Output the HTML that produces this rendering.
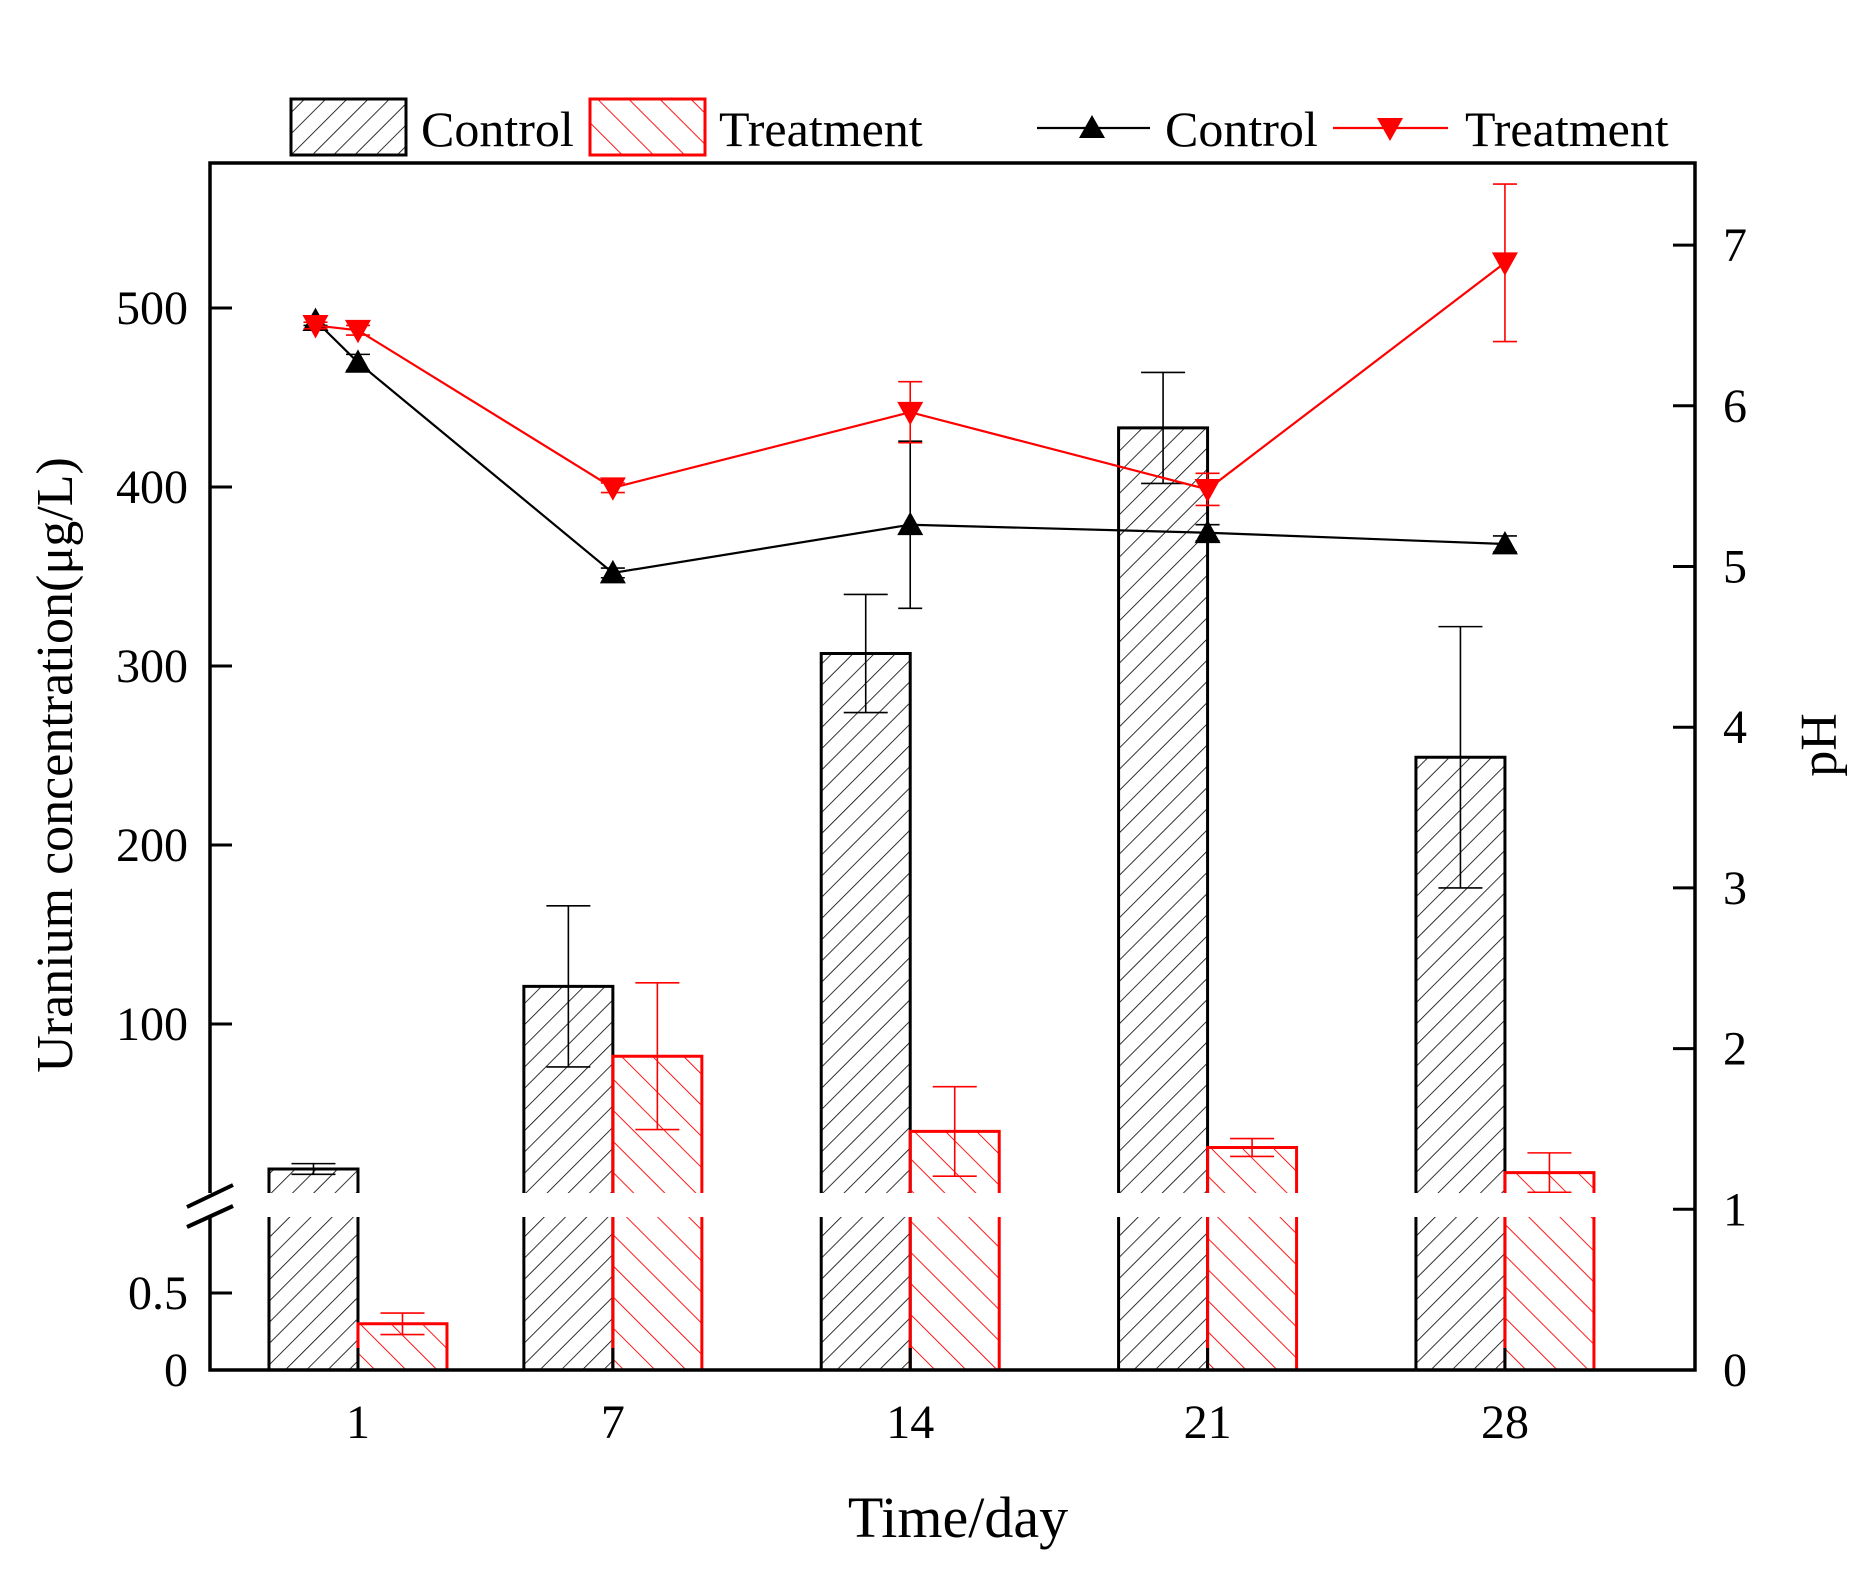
<!DOCTYPE html>
<html><head><meta charset="utf-8">
<style>
html,body{margin:0;padding:0;background:#fff;}
svg{display:block;font-family:"Liberation Serif",serif;}
</style></head>
<body>
<svg id="chart" width="1863" height="1569" viewBox="0 0 1863 1569" xmlns="http://www.w3.org/2000/svg">
<defs>
<pattern id="hatchC" patternUnits="userSpaceOnUse" width="15" height="15" patternTransform="rotate(45)">
<line x1="0" y1="0" x2="0" y2="15" stroke="#000" stroke-width="1.6"/>
</pattern>
<pattern id="hatchT" patternUnits="userSpaceOnUse" width="22" height="22" patternTransform="rotate(-45)">
<line x1="0" y1="0" x2="0" y2="22" stroke="#f00" stroke-width="1.8"/>
</pattern>
</defs>
<g id="g"></g>
</svg>
<script>
const days = [1, 7, 14, 21, 28];
const controlU = [19, 121, 307, 433, 249];
const controlUErr = [3, 45, 33, 31, 73];
const treatU = [0.3, 82, 40, 31, 17];
const treatUErr = [0.07, 41, 25, 5, 11];
const phDays = [0, 1, 7, 14, 21, 28];
const phControl = [6.53, 6.27, 4.96, 5.26, 5.21, 5.14];
const phControlErr = [0.03, 0.05, 0.03, 0.52, 0.05, 0.05];
const phTreat = [6.50, 6.47, 5.49, 5.96, 5.48, 6.89];
const phTreatErr = [0.02, 0.03, 0.03, 0.19, 0.1, 0.49];
const leftTicksUpper = [100, 200, 300, 400, 500];
const leftTicksLower = [0, 0.5];
const leftLowerLabels = ["0", "0.5"];
const rightTicks = [0, 1, 2, 3, 4, 5, 6, 7];

const NS = "http://www.w3.org/2000/svg";
const g = document.getElementById('g');
function el(tag, attrs, parent) {
  const e = document.createElementNS(NS, tag);
  for (const k in attrs) e.setAttribute(k, attrs[k]);
  (parent || g).appendChild(e);
  return e;
}
const L = 210, R = 1695, T = 163, B = 1370;
const gapTop = 1193, gapBot = 1217;
const xS = d => 315.5 + 42.48 * d;
const yU = v => 1203 - 1.79 * v;
const yL = v => 1370 - 154 * v;
const yR = v => 1370 - 160.7 * v;
const BW = 89;

function barSegments(x0, v, fill, stroke, name) {
  const lowTop = v >= 1 ? gapBot : yL(v);
  const r1 = el('rect', {x: x0, y: lowTop, width: BW, height: B - lowTop, fill: fill});
  
  
  const pts = v >= 1 ? `${x0},${B} ${x0},${gapBot} M${x0+BW},${gapBot} ${x0+BW},${B}` : `${x0},${B} ${x0},${lowTop} ${x0+BW},${lowTop} ${x0+BW},${B}`;
  el('path', {d: 'M' + pts, fill: 'none', stroke: stroke, 'stroke-width': 3});
  if (v >= 1) {
    const top = yU(v);
    const r2 = el('rect', {x: x0, y: top, width: BW, height: gapTop - top, fill: fill});
    
    
    el('path', {d: `M${x0},${gapTop} V${top} H${x0+BW} V${gapTop}`, fill: 'none', stroke: stroke, 'stroke-width': 3});
  }
}
function errBar(x, yc, yHi, yLo, color, w) {
  const e = el('path', {d: `M${x},${yHi} V${yLo} M${x-w},${yHi} H${x+w} M${x-w},${yLo} H${x+w}`, stroke: color, 'stroke-width': 1.6, fill: 'none'});
  
  
}

days.forEach((d, i) => {
  const xc = xS(d);
  barSegments(xc - BW, controlU[i], 'url(#hatchC)', '#000', 'bar-control-day' + d);
  barSegments(xc, treatU[i], 'url(#hatchT)', '#f00', 'bar-treatment-day' + d);
  const cv = controlU[i], ce = controlUErr[i];
  errBar(xc - BW / 2, yU(cv), yU(cv + ce), yU(cv - ce), '#000', 22);
  const tv = treatU[i], te = treatUErr[i];
  if (tv >= 1) errBar(xc + BW / 2, yU(tv), yU(tv + te), yU(tv - te), '#f00', 22);
  else errBar(xc + BW / 2, yL(tv), yL(tv + te), yL(tv - te), '#f00', 22);
});

function series(vals, errs, color, up, name) {
  const pts = phDays.map((d, i) => `${xS(d)},${yR(vals[i])}`).join(' ');
  const pl = el('polyline', {points: pts, fill: 'none', stroke: color, 'stroke-width': 2.2});
  
  
  phDays.forEach((d, i) => {
    const x = xS(d), y = yR(vals[i]);
    errBar(x, y, yR(vals[i] + errs[i]), yR(vals[i] - errs[i]), color, 12);
    const s = 13;
    const p = up ? `${x},${y-s} ${x-s},${y+s*0.8} ${x+s},${y+s*0.8}` : `${x},${y+s} ${x-s},${y-s*0.8} ${x+s},${y-s*0.8}`;
    const m = el('polygon', {points: p, fill: color});
    
    
  });
}
series(phControl, phControlErr, '#000', true, 'ph-control');
series(phTreat, phTreatErr, '#f00', false, 'ph-treatment');

el('path', {d: `M${L},${gapTop} V${T} H${R} V${B} H${L} V${gapBot}`, fill: 'none', stroke: '#000', 'stroke-width': 3.5});
el('path', {d: `M187,1207 L233,1185 M187,1227 L233,1206`, stroke: '#000', 'stroke-width': 4});

function txt(x, y, s, size, anchor, name, extra) {
  const t = el('text', Object.assign({x: x, y: y, 'font-size': size, 'text-anchor': anchor}, extra || {}));
  t.textContent = s;
  
  
  return t;
}
leftTicksUpper.forEach(v => {
  el('line', {x1: L, x2: L + 22, y1: yU(v), y2: yU(v), stroke: '#000', 'stroke-width': 3});
  txt(188, yU(v) + 16, String(v), 48, 'end', 'y-left-tick-label');
});
leftTicksLower.forEach((v, i) => {
  el('line', {x1: L, x2: L + 22, y1: yL(v), y2: yL(v), stroke: '#000', 'stroke-width': 3});
  txt(188, yL(v) + 16, leftLowerLabels[i], 48, 'end', 'y-left-tick-label');
});
rightTicks.forEach(v => {
  el('line', {x1: R, x2: R - 22, y1: yR(v), y2: yR(v), stroke: '#000', 'stroke-width': 3});
  txt(1723, yR(v) + 16, String(v), 48, 'start', 'y-right-tick-label');
});
days.forEach(d => {
  el('line', {x1: xS(d), x2: xS(d), y1: B, y2: B - 22, stroke: '#000', 'stroke-width': 3});
  txt(xS(d), 1438, String(d), 48, 'middle', 'x-tick-label');
});
txt(958, 1537, 'Time/day', 58, 'middle', 'x-axis-title');
txt(0, 0, 'Uranium concentration(μg/L)', 52, 'middle', 'y-left-axis-title', {transform: 'translate(72,765) rotate(-90)'});
txt(0, 0, 'pH', 52, 'middle', 'y-right-axis-title', {transform: 'translate(1836,745) rotate(-90)'});

el('rect', {x: 291, y: 99, width: 115, height: 56, fill: 'url(#hatchC)', stroke: '#000', 'stroke-width': 3});
txt(421, 146, 'Control', 50, 'start', 'legend-bar-control');
el('rect', {x: 590, y: 99, width: 115, height: 56, fill: 'url(#hatchT)', stroke: '#f00', 'stroke-width': 3});
txt(719, 146, 'Treatment', 50, 'start', 'legend-bar-treatment');
el('line', {x1: 1037, x2: 1150, y1: 128, y2: 128, stroke: '#000', 'stroke-width': 2.2});
el('polygon', {points: '1092,115 1079,138 1105,138', fill: '#000'});
txt(1165, 146, 'Control', 50, 'start', 'legend-line-control');
el('line', {x1: 1333, x2: 1448, y1: 128, y2: 128, stroke: '#f00', 'stroke-width': 2.2});
el('polygon', {points: '1390,141 1377,118 1403,118', fill: '#f00'});
txt(1465, 146, 'Treatment', 50, 'start', 'legend-line-treatment');
</script>
</body></html>
